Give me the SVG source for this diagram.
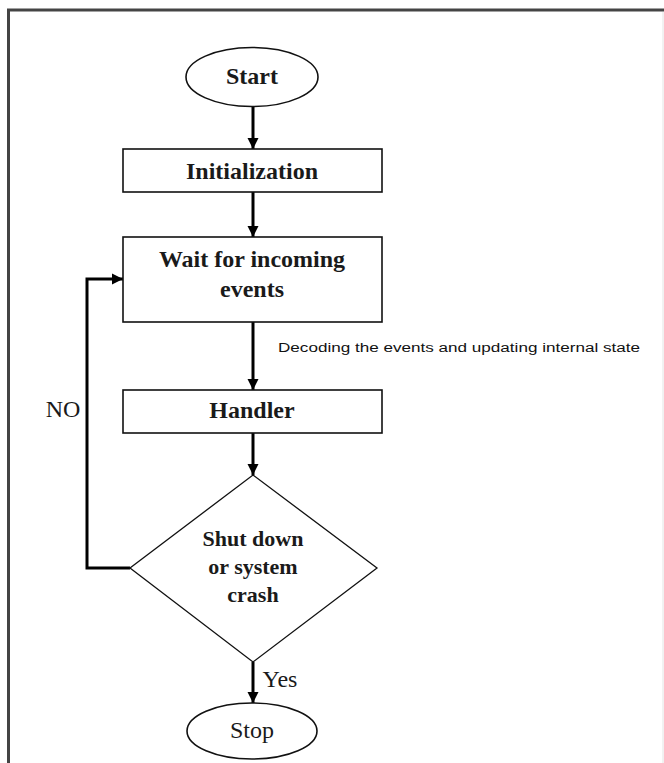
<svg xmlns="http://www.w3.org/2000/svg" width="664" height="763" viewBox="0 0 664 763">
<style>
  .frame { stroke: #444; stroke-width: 3; fill: none; }
  .box { fill: #fff; stroke: #111; stroke-width: 1.6; }
  .dia { fill: #fff; stroke: #111; stroke-width: 1.3; }
  .conn { fill: none; stroke: #000; stroke-width: 3; }
  .t { font-family: "Liberation Serif", "Times New Roman", serif; font-size: 24px; fill: #1a1a1a; text-anchor: middle; }
  .b { font-weight: bold; }
  .s { font-family: "Liberation Sans", Arial, sans-serif; font-size: 12.5px; fill: #111; }
</style>
<defs>
  <marker id="arr" markerUnits="userSpaceOnUse" markerWidth="12" markerHeight="12" refX="11" refY="6" orient="auto">
    <path d="M0,0.5 L11,6 L0,11.5 Z" fill="#000"/>
  </marker>
</defs>
<rect width="664" height="763" fill="#fff"/>
<g id="frame">
  <line class="frame" x1="7" y1="10" x2="664" y2="10"/>
  <line class="frame" x1="8.5" y1="9" x2="8.5" y2="763"/>
  <line x1="663" y1="12" x2="663" y2="763" stroke="#e4e4e4" stroke-width="1"/>
</g>
<g id="connectors">
  <line class="conn" x1="253" y1="106" x2="253" y2="149" marker-end="url(#arr)"/>
  <line class="conn" x1="253" y1="192" x2="253" y2="237" marker-end="url(#arr)"/>
  <line class="conn" x1="253" y1="322" x2="253" y2="390" marker-end="url(#arr)"/>
  <line class="conn" x1="253" y1="433" x2="253" y2="475" marker-end="url(#arr)"/>
  <line class="conn" x1="253" y1="662" x2="253" y2="703" marker-end="url(#arr)"/>
  <polyline class="conn" points="130,568 87,568 87,279 123,279" marker-end="url(#arr)"/>
  <text class="t" x="63" y="417">NO</text>
  <text class="t" x="280" y="687">Yes</text>
  <text class="s" x="278" y="352" textLength="362" lengthAdjust="spacingAndGlyphs">Decoding the events and updating internal state</text>
</g>
<g id="start">
  <ellipse class="box" cx="252" cy="77" rx="66" ry="29.5"/>
  <text class="t b" x="252" y="84">Start</text>
</g>
<g id="init">
  <rect class="box" x="123" y="149" width="259" height="43"/>
  <text class="t b" x="252" y="179">Initialization</text>
</g>
<g id="wait">
  <rect class="box" x="123" y="237" width="259" height="85"/>
  <text class="t b" x="252" y="267">Wait for incoming</text>
  <text class="t b" x="252" y="297">events</text>
</g>
<g id="handler">
  <rect class="box" x="123" y="390" width="259" height="43"/>
  <text class="t b" x="252" y="418">Handler</text>
</g>
<g id="decision">
  <polygon class="dia" points="253,475 377,568 253,662 130,568"/>
  <text class="t b" x="253" y="546" style="font-size:22px">Shut down</text>
  <text class="t b" x="253" y="574" style="font-size:22px">or system</text>
  <text class="t b" x="253" y="602" style="font-size:22px">crash</text>
</g>
<g id="stop">
  <ellipse class="box" cx="252" cy="731" rx="65" ry="28"/>
  <text class="t" x="252" y="738">Stop</text>
</g>
</svg>
